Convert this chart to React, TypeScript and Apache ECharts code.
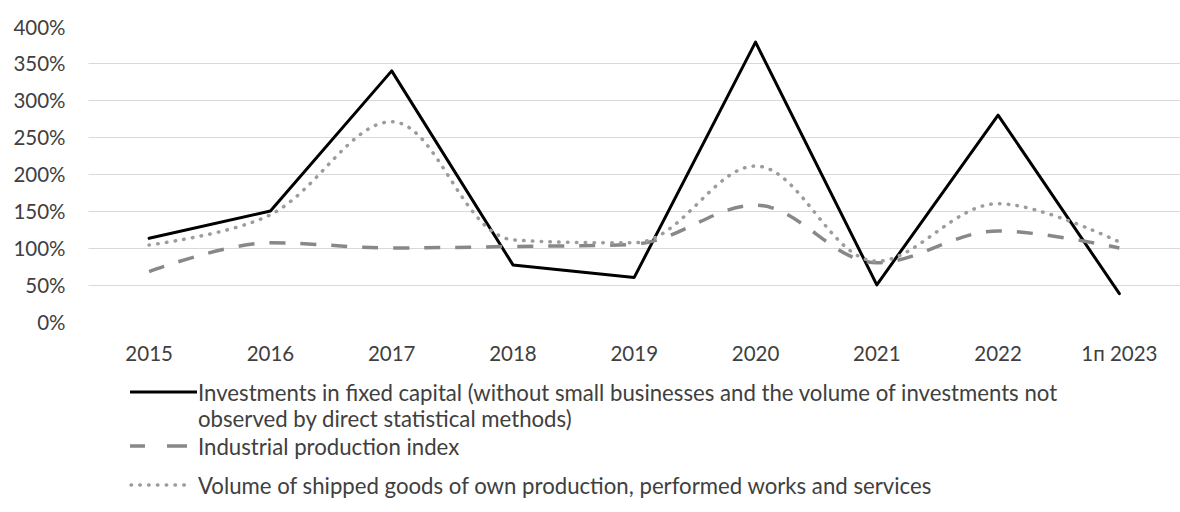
import React, { useEffect, useRef } from "react";
import * as echarts from "echarts";

const categories = ["2015", "2016", "2017", "2018", "2019", "2020", "2021", "2022", "1п 2023"];
const investments = [113, 150, 340, 77, 60, 379, 50, 280, 38];
const industrial = [68, 107, 100, 102, 105, 158, 80, 123, 100];
const shipped = [104, 145, 271, 111, 107, 211, 82, 160, 108];
const seriesNames = [
  "Investments in fixed capital (without small businesses and the volume of investments not observed by direct statistical methods)",
  "Industrial production index",
  "Volume of shipped goods of own production, performed works and services",
];
const legendLine1 = "Investments in fixed capital (without small businesses and the volume of investments not";
const legendLine2 = "observed by direct statistical methods)";

const FONT = "Lato";
const TEXT = "#404040";
const LEGEND_FONT = `22.2px ${FONT}`;

export default function App() {
  const ref = useRef<HTMLDivElement>(null);
  useEffect(() => {
    if (!ref.current) return;
    const chart = echarts.init(ref.current, undefined, { renderer: "svg" });
    const grid = "#D9D9D9";
    chart.setOption({
      animation: false,
      backgroundColor: "#ffffff",
      textStyle: { fontFamily: FONT },
      grid: { left: 88.5, width: 1111.5, top: 26.6, bottom: 190.3, containLabel: false },
      xAxis: {
        type: "category",
        data: categories,
        boundaryGap: true,
        axisLine: { show: false },
        axisTick: { show: false },
        axisLabel: { color: TEXT, fontSize: 20.5, fontFamily: FONT, margin: 21 },
        splitLine: { show: false },
      },
      yAxis: {
        type: "value",
        min: 0,
        max: 400,
        interval: 50,
        axisLine: { show: false },
        axisTick: { show: false },
        axisLabel: {
          color: TEXT,
          fontSize: 20.5,
          fontFamily: FONT,
          margin: 23,
          formatter: (v: number) => `${v}%`,
        },
        splitLine: {
          show: true,
          lineStyle: {
            color: ["transparent", grid, grid, grid, grid, grid, grid, grid, "transparent"],
            width: 1,
          },
        },
      },
      series: [
        {
          name: seriesNames[0],
          type: "line",
          data: investments,
          symbol: "none",
          lineStyle: { color: "#000000", width: 3, cap: "round", join: "round" },
        },
        {
          name: seriesNames[1],
          type: "line",
          data: industrial,
          symbol: "none",
          smooth: 0.35,
          lineStyle: { color: "#888888", width: 3.5, type: [16, 15], cap: "butt" },
        },
        {
          name: seriesNames[2],
          type: "line",
          data: shipped,
          symbol: "none",
          smooth: 0.35,
          lineStyle: { color: "#9C9C9C", width: 3.5, type: [0.5, 8.3], cap: "round" },
        },
      ],
      graphic: [
        {
          type: "line",
          shape: { x1: 130, y1: 392, x2: 197, y2: 392 },
          style: { stroke: "#000000", lineWidth: 3 },
        },
        {
          type: "text",
          x: 198,
          y: 392,
          style: { text: legendLine1, fill: TEXT, font: LEGEND_FONT, verticalAlign: "middle" },
        },
        {
          type: "text",
          x: 198,
          y: 418,
          style: { text: legendLine2, fill: TEXT, font: LEGEND_FONT, verticalAlign: "middle" },
        },
        {
          type: "line",
          shape: { x1: 130, y1: 446, x2: 192, y2: 446 },
          style: { stroke: "#888888", lineWidth: 3.5, lineDash: [15, 22, 20, 100] },
        },
        {
          type: "text",
          x: 198,
          y: 446,
          style: { text: seriesNames[1], fill: TEXT, font: LEGEND_FONT, verticalAlign: "middle" },
        },
        {
          type: "line",
          shape: { x1: 131, y1: 485, x2: 192, y2: 485 },
          style: { stroke: "#9C9C9C", lineWidth: 3.5, lineDash: [0.5, 8.3], lineCap: "round" },
        },
        {
          type: "text",
          x: 198,
          y: 485,
          style: { text: seriesNames[2], fill: TEXT, font: LEGEND_FONT, verticalAlign: "middle" },
        },
      ],
    });
    return () => chart.dispose();
  }, []);
  return (
    <div
      ref={ref}
      style={{ position: "absolute", left: 0, top: 0, width: 1180, height: 512, background: "#fff", overflow: "hidden" }}
    />
  );
}
